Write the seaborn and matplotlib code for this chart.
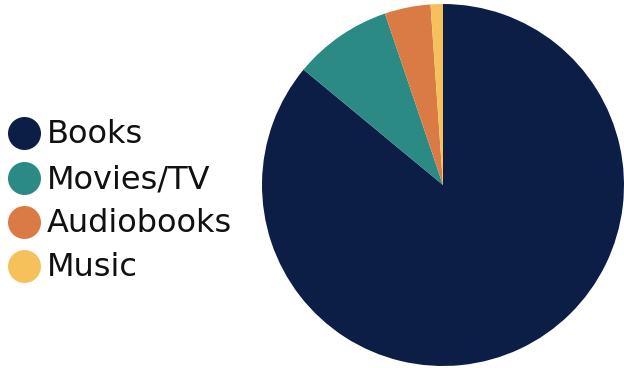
import matplotlib
matplotlib.use("Agg")
import matplotlib.pyplot as plt
import seaborn as sns

categories = ["Books", "Movies/TV", "Audiobooks", "Music"]
values = [86.0, 8.8, 4.1, 1.1]
colors = ["#0C1E45", "#2C8A84", "#DA7B45", "#F6C15B"]

sns.set_theme(style="white")
plt.rcParams["font.family"] = ["DejaVu Sans"]

W, H = 624, 368
fig = plt.figure(figsize=(W / 100, H / 100), dpi=100)
fig.patch.set_facecolor("white")

# pie axes: centre (443, 185) from top, radius 181 px
r = 181
cx, cy = 443, 185
ax = fig.add_axes([(cx - r) / W, (H - cy - r) / H, 2 * r / W, 2 * r / H])
ax.pie(values, colors=colors, startangle=90, counterclock=False,
       wedgeprops=dict(linewidth=0))
ax.set_xlim(-1, 1)
ax.set_ylim(-1, 1)
ax.set_aspect("equal")
ax.axis("off")

# legend
lax = fig.add_axes([0, 0, 1, 1])
lax.set_xlim(0, W)
lax.set_ylim(H, 0)
lax.axis("off")
ys = [133, 178, 222, 266]
for name, col, y in zip(categories, colors, ys):
    lax.scatter([24], [y], s=(33 * 0.72) ** 2, color=col, linewidths=0)
    lax.text(47, y + 10, name, fontsize=23, color="#111111",
             va="baseline", ha="left")

fig.savefig("out.png", dpi=100)
